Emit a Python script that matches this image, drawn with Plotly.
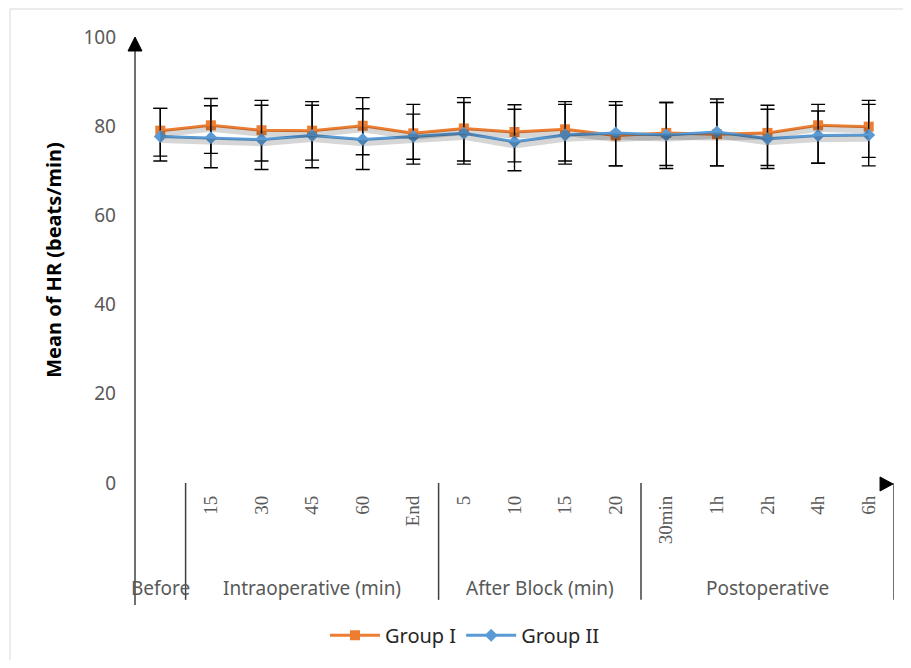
import plotly.graph_objects as go

categories = ["Before", "15", "30", "45", "60", "End", "5", "10", "15 ", "20",
              "30min", "1h", "2h", "4h", "6h"]
tick_labels = ["", "15", "30", "45", "60", "End", "5", "10", "15", "20",
               "30min", "1h", "2h", "4h", "6h"]
group_names = ["Before", "Intraoperative (min)", "After Block (min)", "Postoperative"]
group_centers = [0, 3, 7.5, 12]

g1_mean = [79.0, 80.2, 79.1, 79.0, 80.1, 78.4, 79.5, 78.7, 79.3, 77.9, 78.5, 78.2, 78.5, 80.2, 79.9]
g1_plus = [5.0, 6.0, 6.7, 6.5, 6.3, 6.5, 6.9, 6.1, 6.2, 7.6, 6.8, 7.9, 6.2, 4.7, 5.9]
g1_minus = [5.7, 6.3, 6.9, 6.6, 6.5, 5.8, 7.3, 6.7, 7.1, 6.8, 7.3, 7.1, 7.3, 8.5, 6.9]

g2_mean = [77.7, 77.4, 77.0, 77.9, 77.0, 77.7, 78.4, 76.5, 78.0, 78.5, 78.0, 78.7, 77.2, 77.9, 78.0]
g2_plus = [6.3, 7.2, 7.7, 6.8, 6.9, 5.0, 6.9, 7.3, 6.9, 6.2, 7.3, 6.6, 6.6, 5.5, 6.9]
g2_minus = [5.5, 6.7, 6.7, 7.2, 6.7, 6.2, 6.9, 6.5, 6.5, 7.4, 7.5, 7.6, 6.7, 6.2, 6.9]

y_ticks = [0, 20, 40, 60, 80, 100]
separators = [0.5, 5.5, 9.5, 14.5]

ORANGE = "#ED7D31"
BLUE = "#5B9BD5"
GRAY = "#595959"
xi = list(range(len(categories)))

fig = go.Figure()
# soft drop shadows (same data, drawn on a slightly offset overlay axis)
for m in (g1_mean, g2_mean):
    fig.add_trace(go.Scatter(x=xi, y=m, mode="lines", yaxis="y2", showlegend=False,
                             hoverinfo="skip",
                             line=dict(color="rgba(0,0,0,0.16)", width=6)))
fig.add_trace(go.Scatter(
    x=xi, y=g1_mean, name="Group I", mode="lines+markers",
    line=dict(color=ORANGE, width=3),
    marker=dict(symbol="square", size=10, color=ORANGE),
    error_y=dict(type="data", symmetric=False, array=g1_plus, arrayminus=g1_minus,
                 color="black", thickness=1.4, width=7),
))
fig.add_trace(go.Scatter(
    x=xi, y=g2_mean, name="Group II", mode="lines+markers",
    line=dict(color=BLUE, width=3),
    marker=dict(symbol="diamond", size=10, color=BLUE),
    error_y=dict(type="data", symmetric=False, array=g2_plus, arrayminus=g2_minus,
                 color="black", thickness=1.4, width=7),
))

shapes = []
shapes.append(dict(type="rect", xref="paper", yref="paper", x0=-0.1647, x1=1.05,
                   y0=-0.4103, y1=1.0628, line=dict(color="#D9D9D9", width=1),
                   fillcolor="rgba(0,0,0,0)", layer="below"))
shapes.append(dict(type="line", xref="paper", yref="paper", x0=0, x1=0,
                   y0=-0.2735, y1=0.985, line=dict(color="#404040", width=1.5)))
shapes.append(dict(type="path", xref="paper", yref="paper",
                   path="M -0.0092,0.9686 L 0.0092,0.9686 L 0,1.0 Z",
                   fillcolor="black", line=dict(color="black", width=1)))
shapes.append(dict(type="path", xref="paper", yref="paper",
                   path="M 0.9816,0.0135 L 0.9816,-0.0179 L 0.9987,-0.0022 Z",
                   fillcolor="black", line=dict(color="black", width=1)))
for s in separators:
    shapes.append(dict(type="line", xref="x", yref="paper", x0=s, x1=s,
                       y0=-0.262, y1=0.0, line=dict(color="#404040", width=1.5)))

annotations = []
for name, c in zip(group_names, group_centers):
    annotations.append(dict(x=c, y=-0.235, xref="x", yref="paper", text=name,
                            showarrow=False, yanchor="middle",
                            font=dict(family="Noto Sans", size=19, color=GRAY)))

fig.update_layout(
    width=895, height=652,
    margin=dict(l=127, r=9, t=29, b=177),
    plot_bgcolor="white", paper_bgcolor="white",
    showlegend=True,
    legend=dict(orientation="h", xref="container", yref="container",
                x=0.5106, y=0.038, xanchor="center", yanchor="middle",
                font=dict(family="Noto Sans", size=20, color="#262626"),
                itemwidth=50, traceorder="normal"),
    shapes=shapes, annotations=annotations,
    xaxis=dict(range=[-0.5, 14.5], tickmode="array", tickvals=xi, ticktext=tick_labels,
               tickangle=-90, showgrid=False, zeroline=False, showline=False, ticks="",
               ticklabelstandoff=8,
               tickfont=dict(family="Liberation Serif", size=19, color=GRAY)),
    yaxis=dict(range=[0, 100], tickmode="array", tickvals=y_ticks, showgrid=False,
               zeroline=False, showline=False, ticks="", ticklabelstandoff=18,
               tickfont=dict(family="Noto Sans", size=19, color=GRAY),
               title=dict(text="<b>Mean of HR (beats/min)</b>", standoff=16,
                          font=dict(family="Noto Sans", size=20, color="black"))),
    yaxis2=dict(range=[0.8, 100.8], overlaying="y", visible=False),
)

fig.write_html("out.html")
